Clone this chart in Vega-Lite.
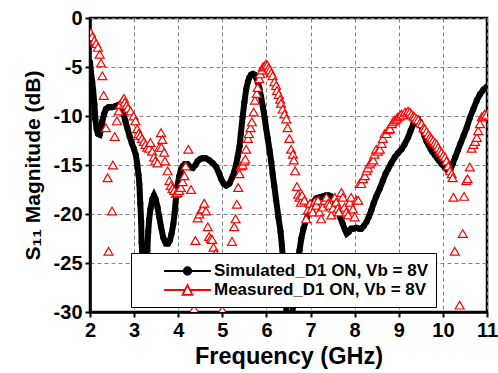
{
  "$schema": "https://vega.github.io/schema/vega-lite/v6.json",
  "width": 397,
  "height": 294,
  "autosize": {"type": "none"},
  "padding": {"left": 90, "top": 18, "right": 11, "bottom": 61},
  "background": "white",
  "config": {
    "locale": {"number": {"decimal": ".", "thousands": ",", "grouping": [3], "currency": ["$", ""], "minus": "-"}},
    "font": "Liberation Sans",
    "view": {"stroke": "black", "strokeWidth": 2.5},
    "axis": {
      "grid": true,
      "gridColor": "#808080",
      "gridDash": [4, 3],
      "gridWidth": 1,
      "domainColor": "black",
      "domainWidth": 2.5,
      "tickColor": "black",
      "tickWidth": 2,
      "tickSize": 5,
      "labelFont": "Liberation Sans",
      "labelFontSize": 20,
      "labelFontWeight": "bold",
      "labelColor": "black",
      "labelFlush": false,
      "labelOverlap": false,
      "titleFont": "Liberation Sans",
      "titleFontWeight": "bold",
      "titleColor": "black"
    },
    "legend": {
      "orient": "none",
      "legendX": 41,
      "legendY": 235,
      "title": null,
      "padding": 8,
      "symbolOffset": 38.5,
      "labelOffset": 16.5,
      "labelFont": "Liberation Sans",
      "labelFontSize": 17,
      "labelFontWeight": "bold",
      "labelColor": "black",
      "labelLimit": 400,
      "labelExpr": "datum.label + '\u00a0\u00a0\u00a0\u00a0\u00a0'",
      "fillColor": "white",
      "strokeColor": "black",
      "symbolSize": 324,
      "symbolStrokeWidth": 1.8,
      "rowPadding": 1
    }
  },
  "datasets": {
    "sim": [
      {"f": 2.00, "db": -4.5}, {"f": 2.02, "db": -5.5}, {"f": 2.05, "db": -6.5}, {"f": 2.07, "db": -7.3},
      {"f": 2.10, "db": -8.8}, {"f": 2.12, "db": -10.3}, {"f": 2.15, "db": -11.3}, {"f": 2.18, "db": -11.8},
      {"f": 2.22, "db": -11.9}, {"f": 2.25, "db": -11.4}, {"f": 2.28, "db": -10.5}, {"f": 2.32, "db": -9.8},
      {"f": 2.36, "db": -9.3}, {"f": 2.42, "db": -9.1}, {"f": 2.50, "db": -9.1}, {"f": 2.58, "db": -9.0},
      {"f": 2.65, "db": -8.85}, {"f": 2.70, "db": -9.0}, {"f": 2.75, "db": -9.6}, {"f": 2.80, "db": -10.5},
      {"f": 2.85, "db": -11.3}, {"f": 2.90, "db": -12.1}, {"f": 2.95, "db": -12.8}, {"f": 3.00, "db": -13.4},
      {"f": 3.04, "db": -14.0}, {"f": 3.07, "db": -14.9}, {"f": 3.10, "db": -16.0}, {"f": 3.12, "db": -17.0},
      {"f": 3.14, "db": -18.9}, {"f": 3.16, "db": -20.8}, {"f": 3.17, "db": -22.9}, {"f": 3.19, "db": -25.0},
      {"f": 3.22, "db": -27.5}, {"f": 3.25, "db": -27.5}, {"f": 3.28, "db": -25.5}, {"f": 3.30, "db": -23.7},
      {"f": 3.32, "db": -21.8}, {"f": 3.34, "db": -20.6}, {"f": 3.37, "db": -19.5}, {"f": 3.41, "db": -18.5},
      {"f": 3.45, "db": -18.1}, {"f": 3.49, "db": -18.5}, {"f": 3.53, "db": -19.3}, {"f": 3.57, "db": -20.3},
      {"f": 3.61, "db": -21.3}, {"f": 3.66, "db": -22.4}, {"f": 3.72, "db": -23.0}, {"f": 3.77, "db": -23.0},
      {"f": 3.81, "db": -22.7}, {"f": 3.85, "db": -22.0}, {"f": 3.89, "db": -21.0}, {"f": 3.92, "db": -19.8},
      {"f": 3.95, "db": -18.3}, {"f": 3.98, "db": -17.2}, {"f": 4.02, "db": -16.2}, {"f": 4.06, "db": -15.5},
      {"f": 4.10, "db": -15.1}, {"f": 4.15, "db": -14.9}, {"f": 4.21, "db": -14.9}, {"f": 4.27, "db": -15.2},
      {"f": 4.33, "db": -15.3}, {"f": 4.39, "db": -15.0}, {"f": 4.44, "db": -14.6}, {"f": 4.50, "db": -14.4},
      {"f": 4.55, "db": -14.3}, {"f": 4.62, "db": -14.3}, {"f": 4.70, "db": -14.5}, {"f": 4.78, "db": -14.8},
      {"f": 4.86, "db": -15.2}, {"f": 4.92, "db": -15.8}, {"f": 4.97, "db": -16.4}, {"f": 5.03, "db": -16.9},
      {"f": 5.09, "db": -17.1}, {"f": 5.16, "db": -16.9}, {"f": 5.23, "db": -16.2}, {"f": 5.27, "db": -15.7},
      {"f": 5.31, "db": -15.0}, {"f": 5.35, "db": -14.1}, {"f": 5.39, "db": -13.1}, {"f": 5.42, "db": -11.8},
      {"f": 5.46, "db": -10.1}, {"f": 5.50, "db": -8.6}, {"f": 5.54, "db": -7.3}, {"f": 5.58, "db": -6.5},
      {"f": 5.61, "db": -6.1}, {"f": 5.65, "db": -5.8}, {"f": 5.69, "db": -5.7}, {"f": 5.73, "db": -5.8},
      {"f": 5.77, "db": -6.1}, {"f": 5.81, "db": -6.6}, {"f": 5.84, "db": -7.2}, {"f": 5.88, "db": -8.1},
      {"f": 5.92, "db": -9.1}, {"f": 5.96, "db": -10.2}, {"f": 5.99, "db": -11.2}, {"f": 6.03, "db": -12.3},
      {"f": 6.07, "db": -13.5}, {"f": 6.11, "db": -14.7}, {"f": 6.14, "db": -15.9}, {"f": 6.18, "db": -17.2},
      {"f": 6.22, "db": -18.6}, {"f": 6.27, "db": -20.3}, {"f": 6.32, "db": -21.8}, {"f": 6.35, "db": -23.2},
      {"f": 6.38, "db": -25.0}, {"f": 6.42, "db": -27.5}, {"f": 6.46, "db": -30.5}, {"f": 6.50, "db": -33.0},
      {"f": 6.55, "db": -32.0}, {"f": 6.60, "db": -29.5}, {"f": 6.65, "db": -27.0}, {"f": 6.70, "db": -25.2},
      {"f": 6.75, "db": -23.7}, {"f": 6.79, "db": -22.5}, {"f": 6.84, "db": -21.5}, {"f": 6.90, "db": -20.6},
      {"f": 6.96, "db": -19.8}, {"f": 7.02, "db": -19.1}, {"f": 7.08, "db": -18.7}, {"f": 7.13, "db": -18.4},
      {"f": 7.20, "db": -18.3}, {"f": 7.28, "db": -18.2}, {"f": 7.35, "db": -18.1}, {"f": 7.41, "db": -18.1},
      {"f": 7.47, "db": -18.2}, {"f": 7.52, "db": -18.4}, {"f": 7.57, "db": -18.9}, {"f": 7.62, "db": -19.5},
      {"f": 7.67, "db": -20.3}, {"f": 7.73, "db": -21.0}, {"f": 7.78, "db": -21.6}, {"f": 7.82, "db": -22.0},
      {"f": 7.87, "db": -21.8}, {"f": 7.92, "db": -21.5}, {"f": 7.98, "db": -21.5}, {"f": 8.04, "db": -21.4},
      {"f": 8.10, "db": -21.5}, {"f": 8.15, "db": -21.5}, {"f": 8.21, "db": -21.2}, {"f": 8.27, "db": -20.8},
      {"f": 8.32, "db": -20.3}, {"f": 8.38, "db": -19.6}, {"f": 8.43, "db": -18.9}, {"f": 8.49, "db": -18.2},
      {"f": 8.57, "db": -17.4}, {"f": 8.64, "db": -16.6}, {"f": 8.70, "db": -15.9}, {"f": 8.76, "db": -15.4},
      {"f": 8.83, "db": -14.8}, {"f": 8.91, "db": -14.2}, {"f": 8.98, "db": -13.8}, {"f": 9.06, "db": -13.4},
      {"f": 9.13, "db": -12.9}, {"f": 9.21, "db": -12.2}, {"f": 9.27, "db": -11.5}, {"f": 9.33, "db": -10.8},
      {"f": 9.38, "db": -10.4}, {"f": 9.43, "db": -10.3}, {"f": 9.48, "db": -10.6}, {"f": 9.53, "db": -11.3},
      {"f": 9.58, "db": -12.0}, {"f": 9.63, "db": -12.6}, {"f": 9.68, "db": -13.0}, {"f": 9.75, "db": -13.6},
      {"f": 9.82, "db": -14.0}, {"f": 9.90, "db": -14.5}, {"f": 9.97, "db": -14.9}, {"f": 10.05, "db": -15.3},
      {"f": 10.12, "db": -15.6}, {"f": 10.17, "db": -15.5}, {"f": 10.22, "db": -14.9}, {"f": 10.28, "db": -14.2},
      {"f": 10.34, "db": -13.5}, {"f": 10.40, "db": -12.8}, {"f": 10.47, "db": -12.0}, {"f": 10.54, "db": -11.2},
      {"f": 10.61, "db": -10.2}, {"f": 10.69, "db": -9.3}, {"f": 10.77, "db": -8.4}, {"f": 10.84, "db": -7.8},
      {"f": 10.92, "db": -7.3}, {"f": 11.00, "db": -7.0}
    ],
    "meas": [
      {"f": 2.02, "db": -1.5}, {"f": 2.05, "db": -1.9}, {"f": 2.10, "db": -2.3}, {"f": 2.14, "db": -2.6},
      {"f": 2.18, "db": -3.0}, {"f": 2.22, "db": -3.7}, {"f": 2.25, "db": -4.6}, {"f": 2.28, "db": -5.9},
      {"f": 2.31, "db": -7.9}, {"f": 2.36, "db": -11.2}, {"f": 2.40, "db": -16.3}, {"f": 2.42, "db": -23.8},
      {"f": 2.50, "db": -19.7}, {"f": 2.52, "db": -15.0}, {"f": 2.56, "db": -12.1}, {"f": 2.61, "db": -10.5},
      {"f": 2.65, "db": -9.5}, {"f": 2.69, "db": -8.8}, {"f": 2.74, "db": -8.4}, {"f": 2.77, "db": -8.2},
      {"f": 2.79, "db": -8.6}, {"f": 2.83, "db": -8.9}, {"f": 2.86, "db": -9.2}, {"f": 2.92, "db": -9.5},
      {"f": 2.99, "db": -10.0}, {"f": 3.03, "db": -10.5}, {"f": 3.07, "db": -11.3}, {"f": 3.10, "db": -11.8},
      {"f": 3.14, "db": -12.0}, {"f": 3.18, "db": -12.3}, {"f": 3.22, "db": -12.6}, {"f": 3.26, "db": -12.9},
      {"f": 3.30, "db": -13.2}, {"f": 3.34, "db": -13.3}, {"f": 3.37, "db": -12.7}, {"f": 3.41, "db": -13.6},
      {"f": 3.45, "db": -14.2}, {"f": 3.48, "db": -14.6}, {"f": 3.53, "db": -14.8}, {"f": 3.57, "db": -13.2},
      {"f": 3.61, "db": -11.7}, {"f": 3.64, "db": -12.4}, {"f": 3.62, "db": -13.2}, {"f": 3.68, "db": -13.7},
      {"f": 3.70, "db": -14.6}, {"f": 3.76, "db": -15.6}, {"f": 3.80, "db": -16.6}, {"f": 3.83, "db": -17.1},
      {"f": 3.87, "db": -17.4}, {"f": 3.91, "db": -17.6}, {"f": 3.95, "db": -17.9}, {"f": 3.98, "db": -17.8},
      {"f": 4.02, "db": -17.6}, {"f": 4.06, "db": -17.3}, {"f": 4.10, "db": -16.7}, {"f": 4.14, "db": -16.1},
      {"f": 4.17, "db": -15.1}, {"f": 4.23, "db": -13.4}, {"f": 4.29, "db": -17.5}, {"f": 4.36, "db": -29.7},
      {"f": 4.39, "db": -22.7}, {"f": 4.44, "db": -20.4}, {"f": 4.48, "db": -20.0}, {"f": 4.52, "db": -19.6},
      {"f": 4.55, "db": -19.5}, {"f": 4.59, "db": -18.9}, {"f": 4.63, "db": -19.7}, {"f": 4.67, "db": -21.3},
      {"f": 4.70, "db": -22.3}, {"f": 4.74, "db": -22.5}, {"f": 4.77, "db": -22.6}, {"f": 4.80, "db": -23.4},
      {"f": 4.85, "db": -24.0}, {"f": 5.00, "db": -29.8}, {"f": 5.22, "db": -22.8}, {"f": 5.27, "db": -21.3},
      {"f": 5.30, "db": -20.5}, {"f": 5.33, "db": -19.0}, {"f": 5.36, "db": -17.3}, {"f": 5.39, "db": -15.9},
      {"f": 5.42, "db": -15.1}, {"f": 5.46, "db": -15.0}, {"f": 5.50, "db": -14.6}, {"f": 5.52, "db": -14.4},
      {"f": 5.54, "db": -13.4}, {"f": 5.58, "db": -12.3}, {"f": 5.60, "db": -11.8}, {"f": 5.64, "db": -11.2},
      {"f": 5.67, "db": -10.6}, {"f": 5.71, "db": -9.6}, {"f": 5.74, "db": -8.4}, {"f": 5.78, "db": -7.7},
      {"f": 5.80, "db": -7.1}, {"f": 5.84, "db": -6.2}, {"f": 5.86, "db": -5.7}, {"f": 5.90, "db": -5.3},
      {"f": 5.92, "db": -5.0}, {"f": 5.95, "db": -4.9}, {"f": 5.99, "db": -4.7}, {"f": 6.02, "db": -4.8},
      {"f": 6.05, "db": -5.1}, {"f": 6.08, "db": -5.3}, {"f": 6.11, "db": -5.6}, {"f": 6.14, "db": -5.9},
      {"f": 6.18, "db": -6.5}, {"f": 6.22, "db": -6.9}, {"f": 6.24, "db": -7.4}, {"f": 6.28, "db": -7.8},
      {"f": 6.31, "db": -8.3}, {"f": 6.33, "db": -8.7}, {"f": 6.37, "db": -9.3}, {"f": 6.41, "db": -9.8},
      {"f": 6.45, "db": -10.3}, {"f": 6.48, "db": -11.2}, {"f": 6.52, "db": -12.3}, {"f": 6.56, "db": -13.4},
      {"f": 6.60, "db": -13.9}, {"f": 6.62, "db": -14.5}, {"f": 6.65, "db": -15.6}, {"f": 6.69, "db": -17.2},
      {"f": 6.72, "db": -18.0}, {"f": 6.75, "db": -18.3}, {"f": 6.78, "db": -18.8}, {"f": 6.81, "db": -18.1},
      {"f": 6.86, "db": -18.6}, {"f": 6.90, "db": -20.5}, {"f": 6.94, "db": -19.6}, {"f": 6.99, "db": -18.9},
      {"f": 7.02, "db": -19.5}, {"f": 7.05, "db": -19.8}, {"f": 7.10, "db": -18.7}, {"f": 7.13, "db": -19.1},
      {"f": 7.17, "db": -18.6}, {"f": 7.20, "db": -19.8}, {"f": 7.24, "db": -20.5}, {"f": 7.28, "db": -19.3},
      {"f": 7.32, "db": -18.6}, {"f": 7.36, "db": -18.3}, {"f": 7.40, "db": -18.9}, {"f": 7.43, "db": -19.1},
      {"f": 7.47, "db": -20.1}, {"f": 7.51, "db": -19.4}, {"f": 7.55, "db": -18.3}, {"f": 7.58, "db": -18.8},
      {"f": 7.62, "db": -19.4}, {"f": 7.64, "db": -19.8}, {"f": 7.70, "db": -17.8}, {"f": 7.73, "db": -18.3},
      {"f": 7.77, "db": -19.3}, {"f": 7.81, "db": -19.8}, {"f": 7.85, "db": -20.1}, {"f": 7.89, "db": -18.8},
      {"f": 7.92, "db": -18.3}, {"f": 7.96, "db": -19.5}, {"f": 8.00, "db": -20.3}, {"f": 8.04, "db": -18.6},
      {"f": 8.08, "db": -18.6}, {"f": 8.11, "db": -16.9}, {"f": 8.15, "db": -16.9}, {"f": 8.19, "db": -16.4},
      {"f": 8.23, "db": -16.1}, {"f": 8.27, "db": -15.6}, {"f": 8.30, "db": -15.3}, {"f": 8.34, "db": -14.9},
      {"f": 8.38, "db": -14.7}, {"f": 8.42, "db": -14.5}, {"f": 8.45, "db": -13.9}, {"f": 8.49, "db": -13.4},
      {"f": 8.53, "db": -13.6}, {"f": 8.57, "db": -13.4}, {"f": 8.61, "db": -12.8}, {"f": 8.64, "db": -12.3},
      {"f": 8.68, "db": -11.8}, {"f": 8.72, "db": -11.8}, {"f": 8.76, "db": -11.4}, {"f": 8.80, "db": -11.3},
      {"f": 8.84, "db": -10.8}, {"f": 8.87, "db": -10.6}, {"f": 8.91, "db": -10.4}, {"f": 8.95, "db": -10.3},
      {"f": 8.98, "db": -10.1}, {"f": 9.02, "db": -10.0}, {"f": 9.06, "db": -9.8}, {"f": 9.10, "db": -9.9},
      {"f": 9.14, "db": -9.6}, {"f": 9.18, "db": -9.7}, {"f": 9.21, "db": -9.5}, {"f": 9.25, "db": -9.6},
      {"f": 9.29, "db": -9.8}, {"f": 9.33, "db": -10.0}, {"f": 9.36, "db": -10.1}, {"f": 9.40, "db": -10.3},
      {"f": 9.44, "db": -10.4}, {"f": 9.48, "db": -10.7}, {"f": 9.52, "db": -10.8}, {"f": 9.56, "db": -11.2},
      {"f": 9.59, "db": -11.3}, {"f": 9.63, "db": -11.6}, {"f": 9.67, "db": -11.9}, {"f": 9.71, "db": -12.1},
      {"f": 9.74, "db": -12.3}, {"f": 9.78, "db": -12.5}, {"f": 9.82, "db": -12.7}, {"f": 9.86, "db": -12.9},
      {"f": 9.89, "db": -13.2}, {"f": 9.93, "db": -13.5}, {"f": 9.97, "db": -13.7}, {"f": 10.01, "db": -14.0},
      {"f": 10.05, "db": -14.2}, {"f": 10.08, "db": -14.6}, {"f": 10.12, "db": -15.1}, {"f": 10.16, "db": -15.6},
      {"f": 10.20, "db": -15.9}, {"f": 10.22, "db": -16.3}, {"f": 10.24, "db": -18.3}, {"f": 10.27, "db": -23.8},
      {"f": 10.38, "db": -29.3}, {"f": 10.45, "db": -22.0}, {"f": 10.48, "db": -18.2}, {"f": 10.53, "db": -16.6},
      {"f": 10.56, "db": -16.4}, {"f": 10.61, "db": -15.2}, {"f": 10.65, "db": -13.3}, {"f": 10.69, "db": -12.9},
      {"f": 10.73, "db": -12.6}, {"f": 10.77, "db": -12.2}, {"f": 10.80, "db": -11.5}, {"f": 10.84, "db": -10.8},
      {"f": 10.88, "db": -10.1}, {"f": 10.92, "db": -10.0}, {"f": 10.95, "db": -9.8}, {"f": 10.99, "db": -9.9}
    ]
  },
  "encoding": {
    "x": {
      "field": "f", "type": "quantitative",
      "scale": {"domain": [2, 11], "nice": false, "zero": false},
      "axis": {"values": [2, 3, 4, 5, 6, 7, 8, 9, 10, 11], "title": "Frequency (GHz)", "titleFontSize": 23.5, "labelPadding": 3, "titlePadding": 4}
    },
    "y": {
      "field": "db", "type": "quantitative",
      "scale": {"domain": [-30, 0], "nice": false, "zero": false},
      "axis": {"values": [-30, -25, -20, -15, -10, -5, 0], "title": "S₁₁ Magnitude (dB)", "titleFontSize": 21, "labelPadding": 3, "titlePadding": 10}
    }
  },
  "layer": [
    {
      "data": {"name": "sim"},
      "mark": {"type": "line", "color": "black", "strokeWidth": 6, "clip": true}
    },
    {
      "data": {"name": "sim"},
      "mark": {"type": "point", "shape": "circle", "filled": true, "color": "black", "size": 38, "opacity": 1, "clip": true}
    },
    {
      "data": {"name": "meas"},
      "mark": {"type": "point", "shape": "triangle-up", "filled": true, "fill": "white", "stroke": "#ff0000", "strokeWidth": 1.2, "size": 80, "opacity": 1, "clip": true}
    },
    {
      "data": {"values": []},
      "mark": {"type": "point", "filled": true, "opacity": 1},
      "encoding": {
        "fill": {
          "field": "series", "type": "nominal",
          "scale": {"domain": ["Simulated_D1 ON, Vb = 8V", "Measured_D1 ON, Vb = 8V"], "range": ["black", "white"]}
        },
        "stroke": {
          "field": "series", "type": "nominal",
          "scale": {"domain": ["Simulated_D1 ON, Vb = 8V", "Measured_D1 ON, Vb = 8V"], "range": ["black", "#ff0000"]}
        },
        "shape": {
          "field": "series", "type": "nominal",
          "scale": {"domain": ["Simulated_D1 ON, Vb = 8V", "Measured_D1 ON, Vb = 8V"], "range": ["M-2.6,0H2.6M-0.42,0A0.42,0.42 0 1,0 0.42,0A0.42,0.42 0 1,0 -0.42,0Z", "M-2.6,0H-0.27M0.27,0H2.6M0,-0.55L0.55,0.55L-0.55,0.55Z"]}
        }
      }
    }
  ]
}
